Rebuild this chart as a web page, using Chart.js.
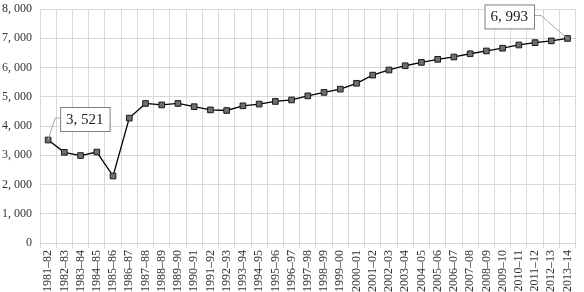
<!DOCTYPE html>
<html>
<head>
<meta charset="utf-8">
<script src="https://cdn.jsdelivr.net/npm/chart.js@4/dist/chart.umd.min.js"></script>
<style>
  html, body { margin: 0; padding: 0; background: #fff; }
  #wrap { width: 584px; height: 292px; }
</style>
</head>
<body>
<div id="wrap"><canvas id="myChart"></canvas></div>
<script>
var yearLabels = ['1981–82', '1982–83', '1983–84', '1984–85', '1985–86', '1986–87', '1987–88', '1988–89',
    '1989–90', '1990–91', '1991–92', '1992–93', '1993–94', '1994–95', '1995–96', '1996–97', '1997–98',
    '1998–99', '1999–00', '2000–01', '2001–02', '2002–03', '2003–04', '2004–05', '2005–06', '2006–07',
    '2007–08', '2008–09', '2009–10', '2010–11', '2011–12', '2012–13', '2013–14'];
var seriesValues = [3521, 3100, 2990, 3110, 2290, 4270, 4770, 4720, 4770, 4660, 4550, 4530, 4690, 4750,
    4840, 4890, 5030, 5150, 5260, 5460, 5740, 5915, 6060, 6175, 6280, 6360, 6470, 6565, 6660, 6770,
    6850, 6910, 6993];
var yTicks = [0, 1000, 2000, 3000, 4000, 5000, 6000, 7000, 8000];
var calloutIndexes = [0, 32];

var serif = "'Liberation Serif', 'DejaVu Serif', serif";

function fmt(v) {
    // comma with a little gap, like the original font
    return Number(v).toLocaleString('en-US').replace(',', ', ');
}

// boxed labels for first and last value
var calloutPlugin = {
    id: 'callouts',
    afterDatasetsDraw: function (chart) {
        var ctx = chart.ctx;
        var pts = chart.getDatasetMeta(0).data;
        ctx.save();
        ctx.font = '15px ' + serif;
        calloutIndexes.forEach(function (i) {
            var p = pts[i];
            var txt = fmt(seriesValues[i]);
            var w = ctx.measureText(txt).width + 12;
            var h = 24;
            var bx, by, lx1, lx2;
            if (i === 0) {
                bx = p.x + 12; by = p.y - 33;
                lx1 = bx; lx2 = bx - 5;
            } else {
                bx = p.x - 83; by = p.y - 34;
                lx1 = bx + w; lx2 = bx + w + 7;
            }
            var ly = by + 11;
            ctx.strokeStyle = '#a6a6a6';
            ctx.lineWidth = 1;
            ctx.beginPath();
            ctx.moveTo(lx1, ly);
            ctx.lineTo(lx2, ly);
            ctx.lineTo(p.x, p.y);
            ctx.stroke();
            ctx.fillStyle = '#fff';
            ctx.fillRect(bx, by, w, h);
            ctx.strokeStyle = '#7f7f7f';
            ctx.strokeRect(bx + 0.5, by + 0.5, w, h);
            ctx.fillStyle = '#222';
            ctx.textBaseline = 'middle';
            ctx.fillText(txt, bx + 6, by + h / 2 + 1);
        });
        ctx.restore();
    }
};

new Chart("myChart", {
    type: "line",
    data: {
        labels: yearLabels,
        datasets: [{
            data: seriesValues,
            borderColor: "#000",
            borderWidth: 1.3,
            pointStyle: 'rect',
            pointRadius: 4,
            pointBackgroundColor: "#6f6f6f",
            pointBorderColor: "#1a1a1a",
            pointBorderWidth: 1,
            fill: false,
            tension: 0
        }]
    },
    options: {
        responsive: true,
        maintainAspectRatio: false,
        animation: false,
        events: [],
        layout: { padding: { top: 9, right: 4, left: 0, bottom: 0 } },
        plugins: {
            legend: { display: false },
            tooltip: { enabled: false }
        },
        scales: {
            x: {
                offset: true,
                grid: {
                    offset: true,
                    color: '#d9d9d9',
                    tickLength: 5,
                    drawTicks: true
                },
                border: { color: '#d9d9d9' },
                ticks: {
                    autoSkip: false,
                    maxRotation: 90,
                    minRotation: 90,
                    padding: 2,
                    color: '#333',
                    font: { family: serif, size: 12 }
                },
                afterFit: function (scale) { scale.height = 49; }
            },
            y: {
                min: 0,
                max: 8000,
                afterBuildTicks: function (scale) {
                    scale.ticks = yTicks.map(function (v) { return { value: v }; });
                },
                grid: { color: '#d9d9d9', drawTicks: false },
                border: { display: false },
                ticks: {
                    padding: 8,
                    color: '#333',
                    font: { family: serif, size: 12 },
                    callback: function (v) { return fmt(v); }
                },
                afterFit: function (scale) {
                    scale.width = 40;
                    scale.paddingTop = 0;
                    scale.paddingBottom = 0;
                }
            }
        }
    },
    plugins: [calloutPlugin]
});
</script>
</body>
</html>
